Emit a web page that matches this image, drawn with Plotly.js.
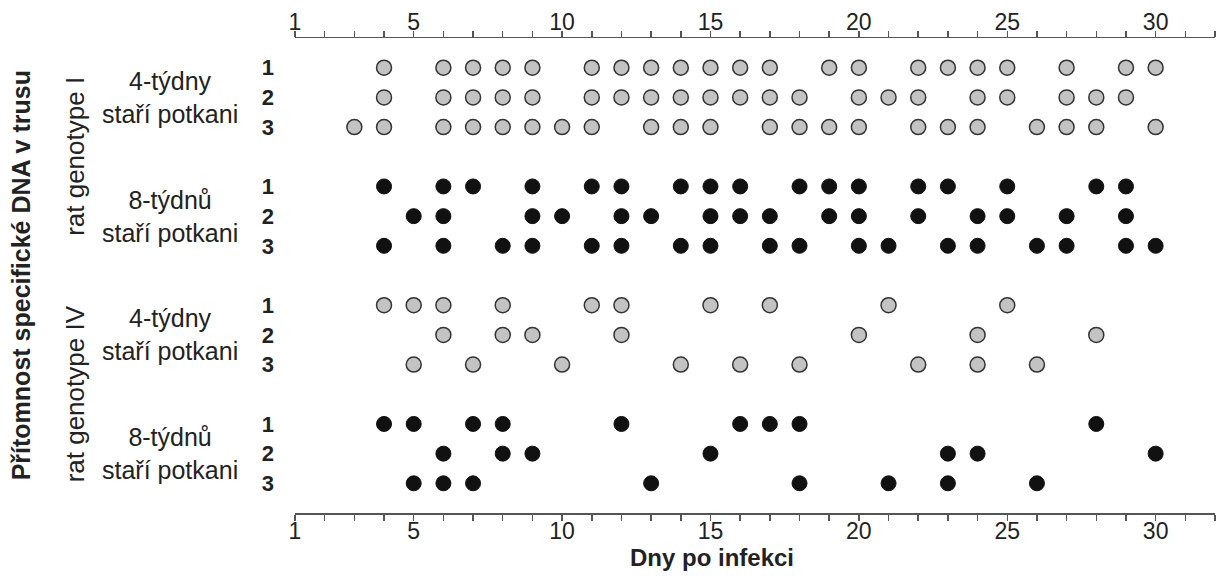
<!DOCTYPE html>
<html>
<head>
<meta charset="utf-8">
<script src="https://cdn.plot.ly/plotly-3.0.1.min.js"></script>
<style>
html,body{margin:0;padding:0;background:#fff;}
#chart{width:1221px;height:576px;}
</style>
</head>
<body>
<div id="chart"></div>
<script>
// Days post infection on which specific DNA was detected (rows = rats 1,2,3)
const genotypeI_4weeks = [
  [4,6,7,8,9,11,12,13,14,15,16,17,19,20,22,23,24,25,27,29,30],
  [4,6,7,8,9,11,12,13,14,15,16,17,18,20,21,22,24,25,27,28,29],
  [3,4,6,7,8,9,10,11,13,14,15,17,18,19,20,22,23,24,26,27,28,30]
];
const genotypeI_8weeks = [
  [4,6,7,9,11,12,14,15,16,18,19,20,22,23,25,28,29],
  [5,6,9,10,12,13,15,16,17,19,20,22,24,25,27,29],
  [4,6,8,9,11,12,14,15,17,18,20,21,23,24,26,27,29,30]
];
const genotypeIV_4weeks = [
  [4,5,6,8,11,12,15,17,21,25],
  [6,8,9,12,20,24,28],
  [5,7,10,14,16,18,22,24,26]
];
const genotypeIV_8weeks = [
  [4,5,7,8,12,16,17,18,28],
  [6,8,9,15,23,24,30],
  [5,6,7,13,18,21,23,26]
];
const ratLabels = ["1","2","3"];
const ageLabels = ["4-týdny<br>staří potkani","8-týdnů<br>staří potkani","4-týdny<br>staří potkani","8-týdnů<br>staří potkani"];
const genotypeLabels = ["rat genotype I","rat genotype IV"];
const xTickLabels = ["1","5","10","15","20","25","30"];
const xTitle = "Dny po infekci";
const yTitle = "Přítomnost specifické DNA v trusu";

const groups = [genotypeI_4weeks, genotypeI_8weeks, genotypeIV_4weeks, genotypeIV_8weeks];
const groupStyle = [
  {color:"#c3c3c3", line:{color:"#333333", width:1.5}},
  {color:"#111111", line:{color:"#111111", width:1}},
  {color:"#c3c3c3", line:{color:"#333333", width:1.5}},
  {color:"#111111", line:{color:"#111111", width:1}}
];

const traces = [];
const rowPos = [], rowText = [];
groups.forEach((g, gi) => {
  const xs = [], ys = [];
  g.forEach((days, ri) => {
    const yy = gi*4 + ri;
    rowPos.push(yy); rowText.push("<b>"+ratLabels[ri]+"</b>");
    days.forEach(d => { xs.push(d); ys.push(yy); });
  });
  traces.push({
    x: xs, y: ys, type: "scatter", mode: "markers",
    marker: Object.assign({size: 15, symbol: "circle"}, groupStyle[gi]),
    hoverinfo: "x", showlegend: false, xaxis: "x", yaxis: "y"
  });
});
// invisible trace so the top axis is drawn
traces.push({x:[1,32], y:[null,null], type:"scatter", mode:"markers", xaxis:"x2", yaxis:"y", showlegend:false, hoverinfo:"skip", marker:{opacity:0}});

const allTicks = [], allText = [];
for (let i = 1; i <= 32; i++) { allTicks.push(i); allText.push(xTickLabels.includes(String(i)) ? String(i) : ""); }

const font = "Liberation Sans, Arial, sans-serif";
const axisCommon = {
  range: [1, 32], tickmode: "array", tickvals: allTicks, ticktext: allText,
  ticks: "outside", ticklen: 6, tickwidth: 1.5, tickcolor: "#555",
  showline: true, linecolor: "#555", linewidth: 1.5,
  showgrid: false, zeroline: false, fixedrange: true,
  tickfont: {family: font, size: 23, color: "#222"}
};

const annotations = [];
ageLabels.forEach((t, gi) => annotations.push({
  text: t, xref: "paper", yref: "y", x: -0.136, y: gi*4 + 1,
  xanchor: "center", yanchor: "middle", showarrow: false,
  font: {family: font, size: 25, color: "#222"}
}));
genotypeLabels.forEach((t, i) => annotations.push({
  text: t, xref: "paper", yref: "y", x: -0.239, y: i*8 + 3,
  xanchor: "center", yanchor: "middle", showarrow: false, textangle: -90,
  font: {family: font, size: 26, color: "#222"}
}));
annotations.push({
  text: "<b>"+yTitle+"</b>", xref: "paper", yref: "paper", x: -0.298, y: 0.5,
  xanchor: "center", yanchor: "middle", showarrow: false, textangle: -90,
  font: {family: font, size: 25, color: "#222"}
});
annotations.push({
  text: "<b>"+xTitle+"</b>", xref: "paper", yref: "paper", x: 0.453, y: 0,
  yshift: -44, xanchor: "center", yanchor: "middle", showarrow: false,
  font: {family: font, size: 24, color: "#222"}
});

const layout = {
  width: 1221, height: 576,
  margin: {l: 295, r: 6, t: 38, b: 63},
  paper_bgcolor: "#fff", plot_bgcolor: "#fff",
  xaxis: Object.assign({}, axisCommon, {side: "bottom", anchor: "y", ticklabelstandoff: -9}),
  xaxis2: Object.assign({}, axisCommon, {side: "top", overlaying: "x", anchor: "y", matches: "x", ticklabelstandoff: -9}),
  yaxis: {
    range: [15, -1], tickmode: "array", tickvals: rowPos, ticktext: rowText,
    ticks: "", showline: false, showgrid: false, zeroline: false, fixedrange: true,
    ticklabelstandoff: 20,
    tickfont: {family: font, size: 22, color: "#222"}
  },
  annotations: annotations,
  showlegend: false
};

Plotly.newPlot("chart", traces, layout, {displayModeBar: false, staticPlot: true});
</script>
</body>
</html>
